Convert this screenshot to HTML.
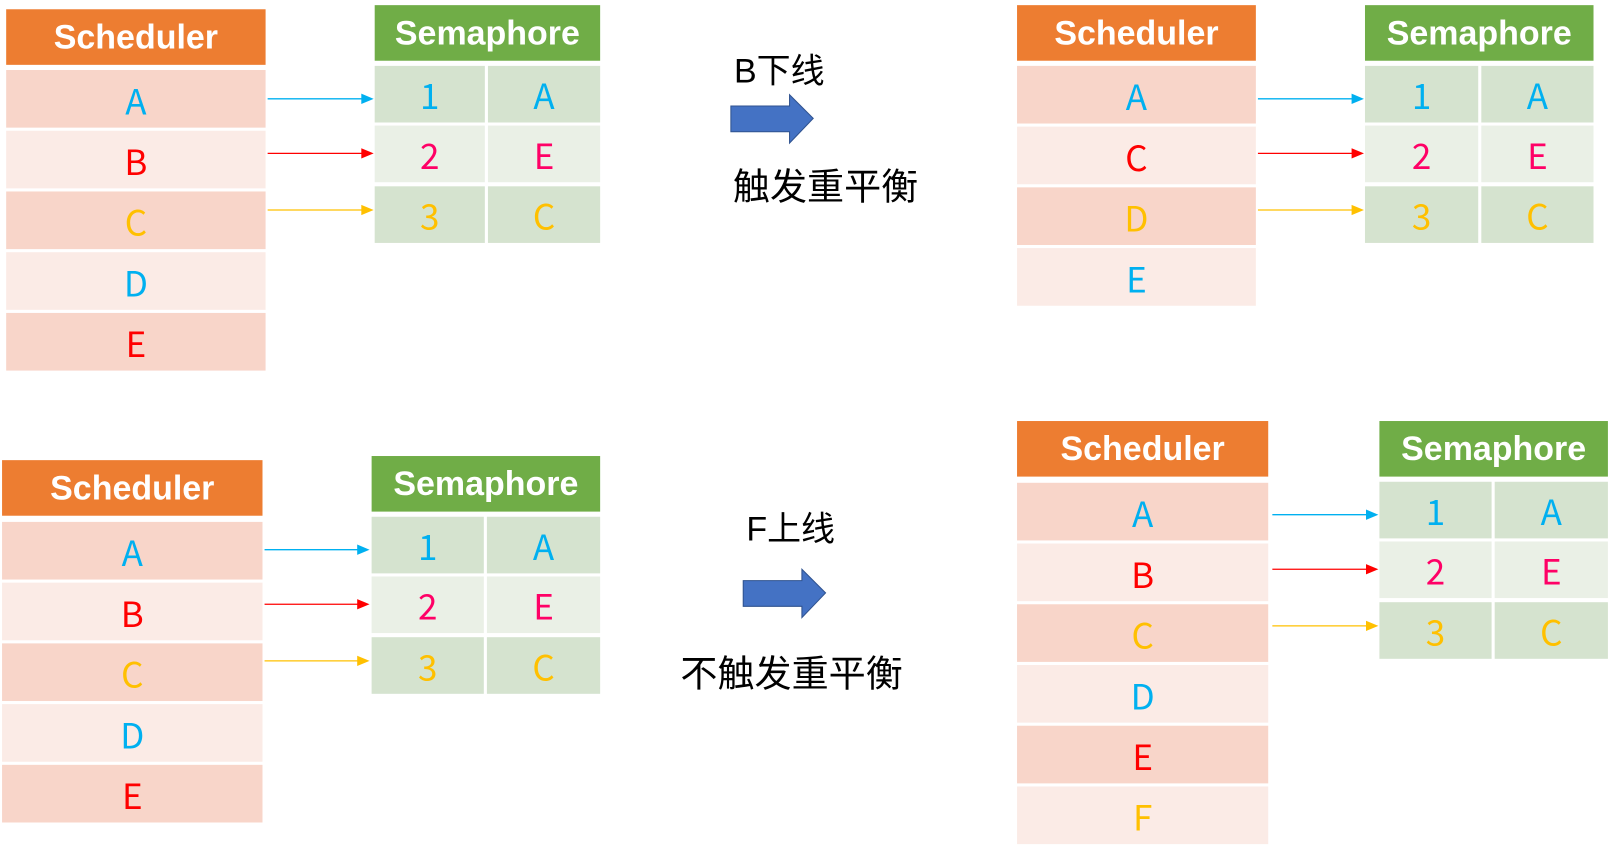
<!DOCTYPE html>
<html><head><meta charset="utf-8">
<style>
html,body{margin:0;padding:0;background:#fff;width:1611px;height:860px;overflow:hidden}
#stage{position:absolute;left:0;top:0;width:1565px;height:836px;transform:scale(1.0294);transform-origin:0 0;font-family:"Liberation Sans","Noto Sans CJK SC",sans-serif}
.box{position:absolute;display:flex;align-items:center;justify-content:center;box-sizing:border-box}
.hdr{color:#fff;font-weight:bold;font-size:33px}
.cell{font-size:34px;font-family:"Noto Sans CJK SC","Liberation Sans",sans-serif;font-weight:400}
.lbl{position:absolute;font-family:"Liberation Sans","Noto Sans CJK SC",sans-serif;color:#000;white-space:nowrap;line-height:1}
svg{position:absolute;left:0;top:0}
</style></head><body>
<div id="stage">
<svg id="svg" width="1565" height="836"></svg>
<div class="lbl" style="left:713px;top:52px;font-size:33px">B下线</div>
<div class="lbl" style="left:712px;top:164px;font-size:36px">触发重平衡</div>
<div class="lbl" style="left:725px;top:497px;font-size:33px">F上线</div>
<div class="lbl" style="left:661px;top:637px;font-size:36px">不触发重平衡</div>
</div>
<script>
const BLUE='#00b0f0',RED='#ff0000',YEL='#ffc000',PINK='#ff0066';
const stage=document.getElementById('stage');
const svg=document.getElementById('svg');
const NS='http://www.w3.org/2000/svg';
function box(x,y,w,h,bg,cls,text,color,name){
  const d=document.createElement('div');
  d.className='box '+cls;
  d.style.cssText=`left:${x}px;top:${y}px;width:${w}px;height:${h}px;background:${bg};color:${color||'#fff'}`;
  d.textContent=text;
  
  
  stage.appendChild(d);
}
function sched(x,y0,w,items,rowStart,prefix){
  box(x,y0,w,54,'#ed7d31','hdr','Scheduler','#fff',prefix+'-scheduler-header');
  items.forEach((it,i)=>{
    box(x,rowStart+i*59,w,56,i%2?'#fbebe6':'#f8d5c9','cell',it[0],it[1],prefix+'-scheduler-row-'+it[0].toLowerCase());
  });
}
function sema(x,y0,w,split,rowStart,prefix){
  box(x,y0,w,54,'#70ad47','hdr','Semaphore','#fff',prefix+'-semaphore-header');
  const rows=[['1','A',BLUE],['2','E',PINK],['3','C',YEL]];
  const ys=[0,58,117];
  rows.forEach((r,i)=>{
    const bg=i%2?'#eaf0e6':'#d5e3cf';
    box(x,rowStart+ys[i],split-x-1,55,bg,'cell',r[0],r[2],prefix+'-semaphore-slot-'+r[0]);
    box(split+2,rowStart+ys[i],x+w-split-2,55,bg,'cell',r[1],r[2],prefix+'-semaphore-owner-'+r[0]);
  });
}
function arrow(x1,x2,y,c,name){
  const g=document.createElementNS(NS,'g');
  
  
  const l=document.createElementNS(NS,'line');
  l.setAttribute('x1',x1);l.setAttribute('y1',y);l.setAttribute('x2',x2-10);l.setAttribute('y2',y);
  l.setAttribute('stroke',c);l.setAttribute('stroke-width','1.3');
  const p=document.createElementNS(NS,'polygon');
  p.setAttribute('points',`${x2-12},${y-5} ${x2},${y} ${x2-12},${y+5}`);p.setAttribute('fill',c);
  g.appendChild(l);g.appendChild(p);svg.appendChild(g);
}
function blockArrow(x,y,name){
  const p=document.createElementNS(NS,'polygon');
  p.setAttribute('points',`${x},${y+11} ${x+57},${y+11} ${x+57},${y} ${x+80},${y+23} ${x+57},${y+47} ${x+57},${y+36} ${x},${y+36}`);
  p.setAttribute('fill','#4472c4');p.setAttribute('stroke','#2f528f');p.setAttribute('stroke-width','1');
  
  
  svg.appendChild(p);
}
sched(6,9,252,[['A',BLUE],['B',RED],['C',YEL],['D',BLUE],['E',RED]],68,'tl');
sema(364,5,219,472,64,'tl');
arrow(260,363,96,BLUE,'tl-arrow-1');arrow(260,363,149,RED,'tl-arrow-2');arrow(260,363,204,YEL,'tl-arrow-3');
sched(988,5,232,[['A',BLUE],['C',RED],['D',YEL],['E',BLUE]],64,'tr');
sema(1326,5,222,1437,64,'tr');
arrow(1222,1325,96,BLUE,'tr-arrow-1');arrow(1222,1325,149,RED,'tr-arrow-2');arrow(1222,1325,204,YEL,'tr-arrow-3');
sched(2,447,253,[['A',BLUE],['B',RED],['C',YEL],['D',BLUE],['E',RED]],507,'bl');
sema(361,443,222,471,502,'bl');
arrow(257,359,534,BLUE,'bl-arrow-1');arrow(257,359,587,RED,'bl-arrow-2');arrow(257,359,642,YEL,'bl-arrow-3');
sched(988,409,244,[['A',BLUE],['B',RED],['C',YEL],['D',BLUE],['E',RED],['F',YEL]],469,'br');
sema(1340,409,222,1450,468,'br');
arrow(1236,1339,500,BLUE,'br-arrow-1');arrow(1236,1339,553,RED,'br-arrow-2');arrow(1236,1339,608,YEL,'br-arrow-3');
blockArrow(710,92,'b-offline-block-arrow');
blockArrow(722,553,'f-online-block-arrow');
</script>
</body></html>
